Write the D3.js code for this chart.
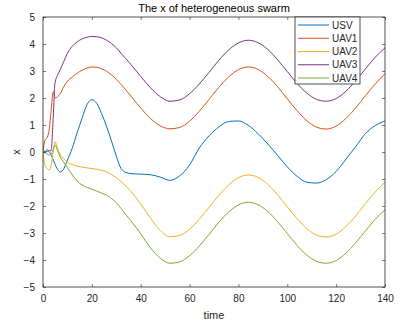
<!DOCTYPE html>
<html>
<head>
<meta charset="utf-8">
<script src="https://cdn.jsdelivr.net/npm/d3@7"></script>
<style>
  body { margin: 0; background: #fff; }
  svg { display: block; font-family: 'Liberation Sans', Arial, sans-serif; }
</style>
</head>
<body>
<svg width="407" height="329"></svg>
<script>
// time samples (dense at the start where the transient is)
const time = [0, 0.8, 1.8, 2.6, 3.3, 4.2, 4.9, 6, 7, 8.5,
  10, 12, 14, 16, 18, 20, 22, 24, 26, 28,
  30, 32, 34, 36, 40, 44, 48, 52, 56, 60,
  64, 68, 72, 76, 80, 84, 88, 92, 96, 100,
  104, 108, 112, 116, 120, 124, 128, 132, 136, 140];

const usv = [0, 0, 0.02, 0, -0.1, -0.3, -0.45, -0.65, -0.74, -0.62,
  -0.3, 0.15, 0.72, 1.25, 1.75, 1.94, 1.8, 1.42, 0.95, 0.42,
  -0.15, -0.62, -0.76, -0.8, -0.82, -0.84, -0.93, -1.05, -0.88, -0.48,
  0.15, 0.6, 0.93, 1.13, 1.15, 0.99, 0.68, 0.3, -0.12, -0.55,
  -0.9, -1.12, -1.15, -1.02, -0.72, -0.27, 0.2, 0.68, 0.98, 1.15];

const uav1 = [0, 0.44, 0.55, 0.88, 1.5, 2.23, 2.0, 2.05, 2.15, 2.42,
  2.62, 2.78, 2.92, 3.03, 3.11, 3.15, 3.14, 3.08, 2.99, 2.86,
  2.69, 2.5, 2.29, 2.07, 1.63, 1.24, 0.97, 0.86, 0.91, 1.14,
  1.51, 1.95, 2.4, 2.78, 3.05, 3.15, 3.06, 2.8, 2.42, 1.97,
  1.53, 1.16, 0.92, 0.85, 0.96, 1.24, 1.63, 2.09, 2.52, 2.9];

const uav2 = [0, -0.48, -0.62, -0.67, -0.5, 0, 0.38, 0.12, -0.08, -0.25,
  -0.38, -0.47, -0.52, -0.56, -0.59, -0.61, -0.64, -0.68, -0.74, -0.83,
  -0.95, -1.1, -1.27, -1.46, -1.92, -2.45, -2.9, -3.14, -3.09, -2.86,
  -2.49, -2.05, -1.6, -1.22, -0.95, -0.85, -0.94, -1.2, -1.58, -2.03,
  -2.47, -2.84, -3.08, -3.15, -3.04, -2.76, -2.37, -1.91, -1.48, -1.12];

const uav3 = [0, 0.02, 0.08, 0.05, 0.05, 1.3, 2.55, 2.85, 3.04, 3.35,
  3.65, 3.92, 4.08, 4.19, 4.25, 4.28, 4.27, 4.23, 4.14, 4.02,
  3.86, 3.65, 3.45, 3.24, 2.8, 2.38, 2.05, 1.88, 1.93, 2.16,
  2.52, 2.95, 3.4, 3.78, 4.04, 4.14, 4.05, 3.8, 3.42, 2.98,
  2.54, 2.18, 1.95, 1.88, 1.98, 2.25, 2.64, 3.08, 3.51, 3.86];

const uav4 = [0, -0.03, -0.08, -0.11, -0.08, 0.1, 0.26, 0.05, -0.17, -0.38,
  -0.58, -0.85, -1.08, -1.22, -1.31, -1.38, -1.45, -1.52, -1.6, -1.72,
  -1.88, -2.1, -2.33, -2.55, -3.03, -3.55, -3.93, -4.12, -4.07, -3.84,
  -3.48, -3.05, -2.6, -2.22, -1.96, -1.86, -1.95, -2.2, -2.58, -3.02,
  -3.46, -3.82, -4.05, -4.12, -4.02, -3.75, -3.36, -2.92, -2.49, -2.14];

const names = ['USV', 'UAV1', 'UAV2', 'UAV3', 'UAV4'];
const colors = ['#0072BD', '#D95319', '#EDB120', '#7E2F8E', '#77AC30'];
const xTicks = [0, 20, 40, 60, 80, 100, 120, 140];
const yTicks = [-5, -4, -3, -2, -1, 0, 1, 2, 3, 4, 5];

const series = [usv, uav1, uav2, uav3, uav4];

const pLeft = 43, pRight = 385, pTop = 17, pBottom = 287;
const axisColor = '#262626';

const svg = d3.select('svg');

const x = d3.scaleLinear().domain([0, 140]).range([pLeft, pRight]);
const y = d3.scaleLinear().domain([-5, 5]).range([pBottom, pTop]);

svg.append('defs').append('clipPath').attr('id', 'plot')
  .append('rect')
  .attr('x', pLeft).attr('y', pTop)
  .attr('width', pRight - pLeft).attr('height', pBottom - pTop);

// lines
const line = d3.line()
  .x((d, i) => x(time[i]))
  .y(d => y(d))
  .curve(d3.curveMonotoneX);

const plot = svg.append('g').attr('clip-path', 'url(#plot)');
series.forEach((s, k) => {
  plot.append('path')
    .attr('d', line(s))
    .attr('fill', 'none')
    .attr('stroke', colors[k])
    .attr('stroke-width', 1);
});

// axes: ticks inward on all four sides
function styleAxis(g) {
  g.select('.domain').remove();
  g.selectAll('.tick line').attr('stroke', axisColor).attr('stroke-width', 0.6);
  g.selectAll('.tick text')
    .attr('fill', axisColor)
    .attr('font-size', 10)
    .attr('font-family', "'Liberation Sans', Arial, sans-serif");
}

svg.append('g').attr('transform', 'translate(0,' + pBottom + ')')
  .call(d3.axisBottom(x).tickValues(xTicks).tickSizeInner(-3).tickPadding(8).tickFormat(d3.format('d')))
  .call(styleAxis);
svg.append('g').attr('transform', 'translate(0,' + pTop + ')')
  .call(d3.axisTop(x).tickValues(xTicks).tickSizeInner(-3).tickFormat(''))
  .call(styleAxis);
svg.append('g').attr('transform', 'translate(' + pLeft + ',0)')
  .call(d3.axisLeft(y).tickValues(yTicks).tickSizeInner(-3).tickPadding(8).tickFormat(d3.format('d')))
  .call(styleAxis);
svg.append('g').attr('transform', 'translate(' + pRight + ',0)')
  .call(d3.axisRight(y).tickValues(yTicks).tickSizeInner(-3).tickFormat(''))
  .call(styleAxis);

// box
svg.append('rect')
  .attr('x', pLeft).attr('y', pTop)
  .attr('width', pRight - pLeft).attr('height', pBottom - pTop)
  .attr('fill', 'none')
  .attr('stroke', axisColor)
  .attr('stroke-width', 0.8);

// title and labels
svg.append('text')
  .attr('x', (pLeft + pRight) / 2).attr('y', 12)
  .attr('text-anchor', 'middle')
  .attr('font-size', 11)
  .attr('fill', '#000')
  .text('The x of heterogeneous swarm');

svg.append('text')
  .attr('x', (pLeft + pRight) / 2).attr('y', 319)
  .attr('text-anchor', 'middle')
  .attr('font-size', 11)
  .attr('fill', axisColor)
  .text('time');

svg.append('text')
  .attr('transform', 'translate(20,' + y(0) + ') rotate(-90)')
  .attr('text-anchor', 'middle')
  .attr('font-size', 11)
  .attr('fill', axisColor)
  .text('x');

// legend
const legend = svg.append('g');
legend.append('rect')
  .attr('x', 295).attr('y', 17)
  .attr('width', 65).attr('height', 67)
  .attr('fill', '#fff')
  .attr('stroke', axisColor)
  .attr('stroke-width', 0.8);

const rowY = d3.scalePoint().domain(names).range([25, 78]);
names.forEach((n, k) => {
  legend.append('line')
    .attr('x1', 298).attr('x2', 329)
    .attr('y1', rowY(n)).attr('y2', rowY(n))
    .attr('stroke', colors[k])
    .attr('stroke-width', 1);
  legend.append('text')
    .attr('x', 332).attr('y', rowY(n) + 3.5)
    .attr('font-size', 10)
    .attr('fill', axisColor)
    .text(n);
});
</script>
</body>
</html>
